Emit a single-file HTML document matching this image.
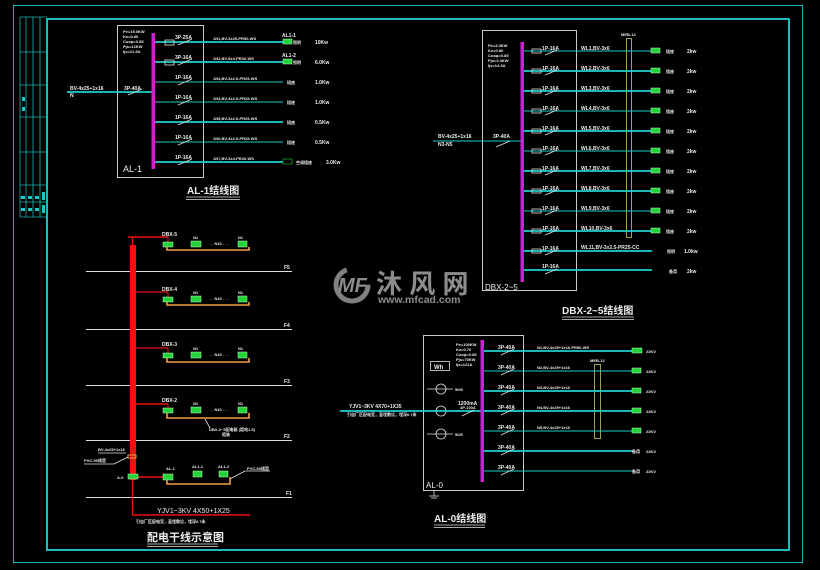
<!DOCTYPE html>
<html><head><meta charset="utf-8"><style>
html,body{margin:0;padding:0;background:#000;width:820px;height:570px;overflow:hidden}
svg{display:block}
text{font-family:"Liberation Sans","Noto Sans CJK SC",sans-serif;fill:#ececec;font-weight:bold}
.c{stroke:#1ed0d0;stroke-width:1.8;fill:none}
.ct{stroke:#1ec8c8;stroke-width:1;fill:none}
.w{stroke:#e0e0e0;stroke-width:0.9;fill:none}
.s{stroke:#e0e0e0;stroke-width:0.8;fill:none}
.g{fill:#22d33a;stroke:#bfffbf;stroke-width:0.5}
.r{stroke:#ee1111;fill:none}
.o{stroke:#f0a040;stroke-width:1.6;fill:none}
.t5{font-size:5px}
.t4{font-size:4px}
</style></head><body>
<svg width="820" height="570" viewBox="0 0 820 570" xmlns="http://www.w3.org/2000/svg">
<rect width="820" height="570" fill="#000"/>
<rect x="13.5" y="5.5" width="789" height="557" fill="none" stroke="#19b4b4" stroke-width="1"/>
<rect x="47" y="19" width="742" height="531" fill="none" stroke="#22d0d0" stroke-width="1.8"/>
<g stroke="#19b4b4" stroke-width="0.8" fill="none">
<line x1="20" y1="17" x2="20" y2="217"/><line x1="26" y1="17" x2="26" y2="217"/><line x1="33" y1="17" x2="33" y2="217"/><line x1="40" y1="17" x2="40" y2="217"/>
<line x1="20" y1="17" x2="47" y2="17"/><line x1="20" y1="52" x2="47" y2="52"/><line x1="20" y1="85" x2="47" y2="85"/><line x1="20" y1="117" x2="47" y2="117"/><line x1="20" y1="152" x2="47" y2="152"/><line x1="20" y1="185" x2="47" y2="185"/><line x1="20" y1="202" x2="47" y2="202"/><line x1="20" y1="217" x2="47" y2="217"/>
</g>
<rect x="22" y="97" width="3" height="4" fill="#1ec8c8"/><rect x="22" y="107" width="3" height="4" fill="#1ec8c8"/>
<rect x="21" y="196" width="4" height="3" fill="#1ec8c8"/><rect x="28" y="196" width="4" height="3" fill="#1ec8c8"/><rect x="35" y="196" width="4" height="3" fill="#1ec8c8"/><rect x="42" y="192" width="3" height="8" fill="#1ec8c8"/>
<rect x="21" y="208" width="4" height="3" fill="#1ec8c8"/><rect x="28" y="208" width="4" height="3" fill="#1ec8c8"/><rect x="35" y="208" width="4" height="3" fill="#1ec8c8"/><rect x="42" y="205" width="3" height="8" fill="#1ec8c8"/>

<g opacity="0.8">
<circle cx="352" cy="285" r="16" fill="none" stroke="#a0a0a0" stroke-width="5" stroke-dasharray="70 30"/>
<text x="338" y="292" style="font-size:20px;font-weight:bold;font-style:italic;fill:#b0b0b0">MF</text>
<text x="376" y="293" style="font-size:26px;font-weight:bold;fill:#b0b0b0">沐 风 网</text>
<text x="378" y="303" style="font-size:10.5px;font-weight:bold;fill:#b0b0b0">www.mfcad.com</text>
</g>

<rect x="117.5" y="25.5" width="86" height="152" class="w"/>
<text x="123" y="33" class="t4">Pe=15.0KW</text><text x="123" y="38" class="t4">Kx=0.80</text><text x="123" y="43" class="t4">Cosφ=0.85</text><text x="123" y="48" class="t4">Pjs=12KW</text><text x="123" y="53" class="t4">Ijs=21.5A</text>
<text x="123" y="172" style="font-size:9px;font-weight:normal">AL-1</text>
<line x1="67" y1="92" x2="153" y2="92" class="c"/>
<text x="70" y="90" class="t5">BV-4x25+1x16</text><text x="70" y="97" class="t5">N</text>
<text x="124" y="90" class="t5">3P-40A</text><line x1="128" y1="95" x2="142" y2="89" class="s"/>
<rect x="151.5" y="33" width="3.5" height="136" fill="#d21ed2"/>
<g>
<line x1="155" y1="42" x2="283" y2="42" class="c"/><line x1="155" y1="62" x2="283" y2="62" class="c"/>
<line x1="155" y1="82" x2="283" y2="82" class="ct"/><line x1="155" y1="102" x2="283" y2="102" class="ct"/>
<line x1="155" y1="122" x2="283" y2="122" class="c"/><line x1="155" y1="142" x2="283" y2="142" class="ct"/>
<line x1="155" y1="162" x2="283" y2="162" class="c"/>
</g>
<g class="s">
<line x1="178" y1="45" x2="192" y2="39"/><line x1="178" y1="65" x2="192" y2="59"/><line x1="178" y1="85" x2="192" y2="79"/><line x1="178" y1="105" x2="192" y2="99"/><line x1="178" y1="125" x2="192" y2="119"/><line x1="178" y1="145" x2="192" y2="139"/><line x1="178" y1="165" x2="192" y2="159"/>
<rect x="165" y="40" width="9" height="5"/><rect x="165" y="60" width="9" height="5"/>
</g>
<text x="175" y="39" class="t5">3P-25A</text><text x="175" y="59" class="t5">3P-16A</text>
<text x="175" y="79" class="t5">1P-16A</text><text x="175" y="99" class="t5">1P-16A</text><text x="175" y="119" class="t5">1P-16A</text><text x="175" y="139" class="t5">1P-16A</text><text x="175" y="159" class="t5">1P-16A</text>
<text x="213" y="40" class="t4">1N1,BV-3x25-PR50-WS</text><text x="213" y="60" class="t4">1N2,BV-5x4-PR40-WS</text><text x="213" y="80" class="t4">1N3,BV-3x2.5-PR25-WS</text><text x="213" y="100" class="t4">1N4,BV-3x2.5-PR25-WS</text><text x="213" y="120" class="t4">1N5,BV-3x2.5-PR25-WS</text><text x="213" y="140" class="t4">1N6,BV-3x2.5-PR25-WS</text><text x="213" y="160" class="t4">1N7,BV-3x4-PR40-WS</text>
<rect x="283" y="39" width="9" height="5" class="g"/><rect x="283" y="59" width="9" height="5" class="g"/><rect x="283" y="159" width="9" height="5" fill="none" stroke="#22d33a" stroke-width="0.6"/>
<text x="282" y="37" class="t5">AL1-1</text><text x="282" y="57" class="t5">AL1-2</text>
<text x="293" y="44" class="t4">照明</text><text x="293" y="64" class="t4">照明</text><text x="287" y="84" class="t4">插座</text><text x="287" y="104" class="t4">插座</text><text x="287" y="124" class="t4">插座</text><text x="287" y="144" class="t4">插座</text><text x="296" y="164" class="t4">空调插座</text>
<text x="315" y="44" class="t5">10Kw</text><text x="315" y="64" class="t5">6.0Kw</text><text x="315" y="84" class="t5">1.0Kw</text><text x="315" y="104" class="t5">1.0Kw</text><text x="315" y="124" class="t5">0.5Kw</text><text x="315" y="144" class="t5">0.5Kw</text><text x="326" y="164" class="t5">3.0Kw</text>
<text x="187" y="194" style="font-size:10px;font-weight:bold">AL-1结线图</text>
<line x1="186" y1="197" x2="240" y2="197" class="s"/><line x1="186" y1="199.5" x2="240" y2="199.5" class="s"/>

<rect x="482.5" y="30.5" width="94" height="260" class="w"/>
<text x="488" y="47" class="t4">Pe=3.0KW</text><text x="488" y="52" class="t4">Kx=0.80</text><text x="488" y="57" class="t4">Cosφ=0.85</text><text x="488" y="62" class="t4">Pjs=2.4KW</text><text x="488" y="67" class="t4">Ijs=14.3A</text>
<text x="485" y="290" style="font-size:8px;font-weight:normal">DBX-2~5</text>
<line x1="433" y1="141" x2="521" y2="141" class="ct"/>
<text x="438" y="138" class="t5">BV-4x25+1x16</text><text x="438" y="146" class="t5">N3-N5</text>
<text x="493" y="138" class="t5">3P-40A</text><line x1="496" y1="147" x2="510" y2="141" class="s"/>
<rect x="520.5" y="42" width="3.5" height="240" fill="#d21ed2"/>
<rect x="626.5" y="38.5" width="5" height="199" fill="none" stroke="#c8c864" stroke-width="0.8"/>
<text x="621" y="36" class="t4">MEB-12</text>
<g>
<line x1="524" y1="51" x2="652" y2="51" class="ct"/><line x1="524" y1="71" x2="652" y2="71" class="c"/><line x1="524" y1="91" x2="652" y2="91" class="c"/><line x1="524" y1="111" x2="652" y2="111" class="ct"/><line x1="524" y1="131" x2="652" y2="131" class="c"/><line x1="524" y1="151" x2="652" y2="151" class="ct"/><line x1="524" y1="171" x2="652" y2="171" class="c"/><line x1="524" y1="191" x2="652" y2="191" class="c"/><line x1="524" y1="211" x2="652" y2="211" class="ct"/><line x1="524" y1="231" x2="652" y2="231" class="c"/><line x1="524" y1="251" x2="652" y2="251" class="c"/><line x1="524" y1="270" x2="652" y2="270" class="c"/>
</g>
<g class="s">
<rect x="532" y="49" width="9" height="4"/><rect x="532" y="69" width="9" height="4"/><rect x="532" y="89" width="9" height="4"/><rect x="532" y="109" width="9" height="4"/><rect x="532" y="129" width="9" height="4"/><rect x="532" y="149" width="9" height="4"/><rect x="532" y="169" width="9" height="4"/><rect x="532" y="189" width="9" height="4"/><rect x="532" y="209" width="9" height="4"/><rect x="532" y="229" width="9" height="4"/><rect x="532" y="249" width="9" height="4"/>
<line x1="545" y1="55" x2="557" y2="50"/><line x1="545" y1="75" x2="557" y2="70"/><line x1="545" y1="95" x2="557" y2="90"/><line x1="545" y1="115" x2="557" y2="110"/><line x1="545" y1="135" x2="557" y2="130"/><line x1="545" y1="155" x2="557" y2="150"/><line x1="545" y1="175" x2="557" y2="170"/><line x1="545" y1="195" x2="557" y2="190"/><line x1="545" y1="215" x2="557" y2="210"/><line x1="545" y1="235" x2="557" y2="230"/><line x1="545" y1="255" x2="557" y2="250"/><line x1="545" y1="274" x2="557" y2="269"/>
</g>
<g class="t5">
<text x="542" y="50">1P-16A</text><text x="542" y="70">1P-16A</text><text x="542" y="90">1P-16A</text><text x="542" y="110">1P-16A</text><text x="542" y="130">1P-16A</text><text x="542" y="150">1P-16A</text><text x="542" y="170">1P-16A</text><text x="542" y="190">1P-16A</text><text x="542" y="210">1P-16A</text><text x="542" y="230">1P-16A</text><text x="542" y="250">1P-16A</text><text x="542" y="268">1P-16A</text>
<text x="581" y="50">WL1,BV-3x6</text><text x="581" y="70">WL2,BV-3x6</text><text x="581" y="90">WL3,BV-3x6</text><text x="581" y="110">WL4,BV-3x6</text><text x="581" y="130">WL5,BV-3x6</text><text x="581" y="150">WL6,BV-3x6</text><text x="581" y="170">WL7,BV-3x6</text><text x="581" y="190">WL8,BV-3x6</text><text x="581" y="210">WL9,BV-3x6</text><text x="581" y="230">WL10,BV-3x6</text><text x="581" y="249">WL11,BV-3x2.5-PR25-CC</text>
</g>
<g>
<rect x="651" y="48" width="9" height="5" class="g"/><rect x="651" y="68" width="9" height="5" class="g"/><rect x="651" y="88" width="9" height="5" class="g"/><rect x="651" y="108" width="9" height="5" class="g"/><rect x="651" y="128" width="9" height="5" class="g"/><rect x="651" y="148" width="9" height="5" class="g"/><rect x="651" y="168" width="9" height="5" class="g"/><rect x="651" y="188" width="9" height="5" class="g"/><rect x="651" y="208" width="9" height="5" class="g"/><rect x="651" y="228" width="9" height="5" class="g"/>
</g>
<g class="t4">
<text x="666" y="53">插座</text><text x="666" y="73">插座</text><text x="666" y="93">插座</text><text x="666" y="113">插座</text><text x="666" y="133">插座</text><text x="666" y="153">插座</text><text x="666" y="173">插座</text><text x="666" y="193">插座</text><text x="666" y="213">插座</text><text x="666" y="233">插座</text><text x="667" y="253">照明</text><text x="669" y="273">备用</text>
</g>
<g class="t5">
<text x="687" y="53">2kw</text><text x="687" y="73">2kw</text><text x="687" y="93">2kw</text><text x="687" y="113">2kw</text><text x="687" y="133">2kw</text><text x="687" y="153">2kw</text><text x="687" y="173">2kw</text><text x="687" y="193">2kw</text><text x="687" y="213">2kw</text><text x="687" y="233">2kw</text><text x="684" y="253">1.0kw</text><text x="687" y="273">2kw</text>
</g>
<text x="562" y="314" style="font-size:10px;font-weight:bold">DBX-2~5结线图</text>
<line x1="562" y1="317" x2="634" y2="317" class="s"/><line x1="562" y1="319.5" x2="634" y2="319.5" class="s"/>

<rect x="423.5" y="335.5" width="100" height="155" class="w"/>
<text x="456" y="346" class="t4">Pe=100KW</text><text x="456" y="351" class="t4">Kx=0.70</text><text x="456" y="356" class="t4">Cosφ=0.85</text><text x="456" y="361" class="t4">Pjs=70KW</text><text x="456" y="366" class="t4">Ijs=122A</text>
<rect x="430.5" y="361.5" width="19" height="9" class="s"/><text x="434" y="369" style="font-size:6px">Wh</text>
<g class="s">
<circle cx="441" cy="389" r="5"/><line x1="427" y1="389" x2="453" y2="389"/>
<circle cx="441" cy="411" r="5"/>
<circle cx="441" cy="434" r="5"/><line x1="427" y1="434" x2="453" y2="434"/>
</g>
<text x="455" y="391" class="t4">50/5</text><text x="455" y="436" class="t4">50/5</text>
<text x="426" y="488" style="font-size:8px;font-weight:normal">AL-0</text>
<line x1="340" y1="411" x2="482" y2="411" class="c"/>
<text x="349" y="408" class="t5">YJV1~3KV 4X70+1X35</text>
<text x="347" y="416" class="t4">引自厂区配电室，直埋敷设，埋深0.7米</text>
<text x="458" y="405" class="t5">1200mA</text><text x="460" y="409" class="t4">4P-100A</text>
<line x1="462" y1="416" x2="474" y2="410" class="s"/>
<rect x="480.5" y="340" width="3.5" height="142" fill="#d21ed2"/>
<line x1="434" y1="490" x2="434" y2="496" class="s"/><line x1="429" y1="496" x2="439" y2="496" class="s"/><line x1="431" y1="498" x2="437" y2="498" class="s"/>
<rect x="594.5" y="364.5" width="6" height="74" fill="none" stroke="#c8c864" stroke-width="0.8"/>
<text x="590" y="362" class="t4">MEB-12</text>
<line x1="484" y1="351" x2="632" y2="351" class="c"/><line x1="484" y1="371" x2="633" y2="371" class="ct"/><line x1="484" y1="391" x2="633" y2="391" class="c"/><line x1="484" y1="411" x2="633" y2="411" class="c"/><line x1="484" y1="431" x2="633" y2="431" class="ct"/><line x1="484" y1="451" x2="633" y2="451" class="c"/><line x1="484" y1="471" x2="633" y2="471" class="ct"/>
<g class="s">
<line x1="501" y1="355" x2="514" y2="349"/><line x1="501" y1="375" x2="514" y2="369"/><line x1="501" y1="395" x2="514" y2="389"/><line x1="501" y1="415" x2="514" y2="409"/><line x1="501" y1="435" x2="514" y2="429"/><line x1="501" y1="455" x2="514" y2="449"/><line x1="501" y1="475" x2="514" y2="469"/>
</g>
<g class="t5">
<text x="498" y="349">3P-40A</text><text x="498" y="369">3P-40A</text><text x="498" y="389">3P-40A</text><text x="498" y="409">3P-40A</text><text x="498" y="429">3P-40A</text><text x="498" y="449">3P-40A</text><text x="498" y="469">3P-40A</text>
</g>
<g class="t4">
<text x="537" y="349">N1,BV-4x25+1x16-PR50-WS</text><text x="537" y="369">N2,BV-4x25+1x16</text><text x="537" y="389">N3,BV-4x25+1x16</text><text x="537" y="409">N4,BV-4x25+1x16</text><text x="537" y="429">N5,BV-4x25+1x16</text>
</g>
<rect x="632" y="348" width="10" height="5" class="g"/>
<rect x="632" y="368" width="9" height="5" class="g"/><rect x="632" y="388" width="9" height="5" class="g"/><rect x="632" y="408" width="9" height="5" class="g"/><rect x="632" y="428" width="9" height="5" class="g"/>
<text x="632" y="453" class="t4">备用</text><text x="632" y="473" class="t4">备用</text>
<g class="t4">
<text x="646" y="353">22KV</text><text x="646" y="373">22KV</text><text x="646" y="393">22KV</text><text x="646" y="413">22KV</text><text x="646" y="433">22KV</text><text x="646" y="453">22KV</text><text x="646" y="473">22KV</text>
</g>
<text x="434" y="522" style="font-size:10px;font-weight:bold">AL-0结线图</text>
<line x1="434" y1="525" x2="485" y2="525" class="s"/><line x1="434" y1="527.5" x2="485" y2="527.5" class="s"/>

<g class="w">
<line x1="86" y1="271.5" x2="292" y2="271.5"/><line x1="86" y1="329.5" x2="292" y2="329.5"/><line x1="86" y1="385.5" x2="292" y2="385.5"/><line x1="86" y1="440.5" x2="292" y2="440.5"/><line x1="86" y1="497.5" x2="292" y2="497.5"/>
</g>
<text x="284" y="269" class="t5">F5</text><text x="284" y="327" class="t5">F4</text><text x="284" y="383" class="t5">F3</text><text x="284" y="438" class="t5">F2</text><text x="286" y="495" class="t5">F1</text>
<line x1="132.5" y1="237" x2="132.5" y2="515" class="r" stroke-width="1.3"/>
<rect x="130" y="245" width="6" height="235" fill="#ee1111"/>
<line x1="132" y1="515" x2="250" y2="515" class="r" stroke-width="1.6"/>
<line x1="128" y1="237" x2="168" y2="237" class="r" stroke-width="1.4"/>
<line x1="132" y1="292" x2="168" y2="292" class="r" stroke-width="1.2"/>
<line x1="132" y1="348" x2="168" y2="348" class="r" stroke-width="1.2"/>
<line x1="136" y1="404" x2="168" y2="404" class="r" stroke-width="1.4"/>
<line x1="136" y1="477" x2="165" y2="477" class="r" stroke-width="1.4"/>
<line x1="168" y1="237" x2="168" y2="242" class="r"/>
<line x1="168" y1="292" x2="168" y2="297" class="r"/>
<line x1="168" y1="348" x2="168" y2="353" class="r"/>
<line x1="168" y1="404" x2="168" y2="408" class="r"/>
<g>
<rect x="163" y="242" width="10" height="5" class="g"/><rect x="191" y="241" width="10" height="6" class="g"/><rect x="238" y="241" width="9" height="6" class="g"/>
<rect x="163" y="297" width="10" height="5" class="g"/><rect x="191" y="296" width="10" height="6" class="g"/><rect x="238" y="296" width="9" height="6" class="g"/>
<rect x="163" y="353" width="10" height="5" class="g"/><rect x="191" y="352" width="10" height="6" class="g"/><rect x="238" y="352" width="9" height="6" class="g"/>
<rect x="163" y="408" width="10" height="5" class="g"/><rect x="191" y="407" width="10" height="6" class="g"/><rect x="238" y="407" width="9" height="6" class="g"/>
<rect x="163" y="474" width="10" height="6" class="g"/><rect x="193" y="471" width="9" height="6" class="g"/><rect x="219" y="471" width="9" height="6" class="g"/>
<rect x="128" y="474" width="10" height="5" class="g"/>
</g>
<path d="M167 247 V250 H249 V247" class="o"/>
<path d="M167 302 V305 H249 V302" class="o"/>
<path d="M167 358 V362 H249 V358" class="o"/>
<path d="M167 413 V418 H249 V413" class="o"/>
<path d="M167 480 V484 H230 V477" class="o"/>
<rect x="128" y="455" width="8" height="3" fill="none" stroke="#f0a040" stroke-width="1"/>
<text x="162" y="236" class="t5">DBX-5</text><text x="162" y="291" class="t5">DBX-4</text><text x="162" y="346" class="t5">DBX-3</text><text x="162" y="402" class="t5">DBX-2</text>
<text x="193" y="239" class="t4">N1</text><text x="210" y="245" class="t4">. . N10 . . .</text><text x="238" y="239" class="t4">N1</text>
<text x="193" y="294" class="t4">N1</text><text x="210" y="300" class="t4">. . N10 . . .</text><text x="238" y="294" class="t4">N1</text>
<text x="193" y="350" class="t4">N1</text><text x="210" y="356" class="t4">. . N10 . . .</text><text x="238" y="350" class="t4">N1</text>
<text x="193" y="405" class="t4">N1</text><text x="210" y="411" class="t4">. . N10 . . .</text><text x="238" y="405" class="t4">N1</text>
<line x1="205" y1="419" x2="210" y2="428" class="s"/>
<text x="209" y="431" class="t4">DBX-2~5配电箱 (距地1.5)</text><text x="222" y="436" class="t4">暗装</text>
<text x="166" y="470" class="t4">AL-1</text><text x="192" y="468" class="t4">AL1-1</text><text x="218" y="468" class="t4">AL1-2</text>
<line x1="230" y1="479" x2="245" y2="471" class="s"/><line x1="245" y1="471" x2="270" y2="471" class="s"/>
<text x="247" y="470" class="t4">PVC-50线管</text>
<text x="98" y="451" class="t4">BV-4x25+1x16</text><line x1="98" y1="453" x2="126" y2="453" class="s"/>
<text x="84" y="462" class="t4">PVC-50线管</text><line x1="84" y1="464" x2="114" y2="464" class="s"/><line x1="114" y1="464" x2="128" y2="457" class="s"/>
<text x="117" y="479" class="t4">A-0</text>
<text x="157" y="513" style="font-size:7px;font-weight:normal">YJV1~3KV 4X50+1X25</text>
<text x="136" y="523" class="t4">引自厂区配电室，直埋敷设，埋深0.7米</text>
<text x="147" y="541" style="font-size:11px;font-weight:bold">配电干线示意图</text>
<line x1="147" y1="544" x2="218" y2="544" class="s"/><line x1="147" y1="546.5" x2="218" y2="546.5" class="s"/>
</svg>
</body></html>
